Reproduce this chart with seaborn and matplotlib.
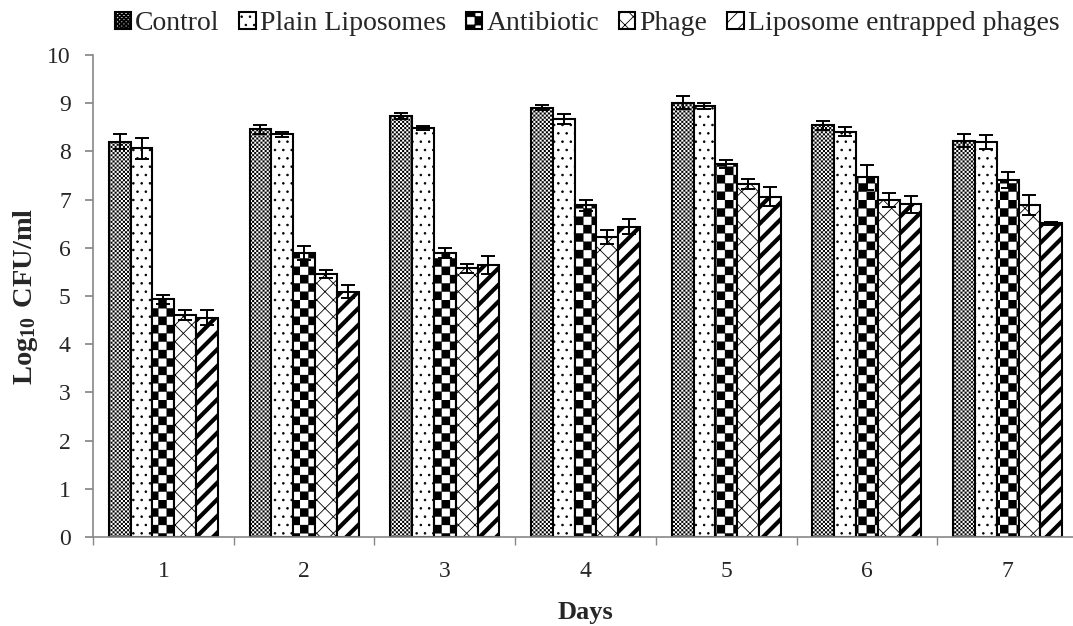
import numpy as np
import pandas as pd
import matplotlib
matplotlib.use('Agg')
import matplotlib.pyplot as plt
import matplotlib.hatch as mhatch
from matplotlib.path import Path
import seaborn as sns

days = ['1', '2', '3', '4', '5', '6', '7']
treatments = ['Control', 'Plain Liposomes', 'Antibiotic', 'Phage',
              'Liposome entrapped phages']
control = [8.20, 8.46, 8.74, 8.91, 9.01, 8.54, 8.22]
plain_lipo = [8.06, 8.35, 8.49, 8.67, 8.94, 8.41, 8.19]
antibiotic = [4.93, 5.89, 5.89, 6.88, 7.74, 7.46, 7.41]
phage = [4.61, 5.46, 5.57, 6.22, 7.32, 6.99, 6.89]
lipo_phage = [4.55, 5.09, 5.64, 6.44, 7.06, 6.90, 6.51]
control_err = [0.16, 0.09, 0.06, 0.06, 0.13, 0.10, 0.13]
plain_lipo_err = [0.21, 0.05, 0.04, 0.10, 0.07, 0.09, 0.15]
antibiotic_err = [0.10, 0.15, 0.10, 0.12, 0.08, 0.26, 0.16]
phage_err = [0.10, 0.08, 0.10, 0.14, 0.10, 0.15, 0.20]
lipo_phage_err = [0.15, 0.14, 0.18, 0.15, 0.20, 0.17, 0.03]

values = [control, plain_lipo, antibiotic, phage, lipo_phage]
errors = [control_err, plain_lipo_err, antibiotic_err, phage_err, lipo_phage_err]

df = pd.DataFrame({
    'Day': np.tile(days, len(treatments)),
    'Treatment': np.repeat(treatments, len(days)),
    'CFU': np.concatenate(values),
})


# checkerboard hatch (takes over the 'O' character)
class CheckerHatch(mhatch.HatchPatternBase):
    def __init__(self, hatch, density):
        self.n = hatch.count('O') * int(density)
        if self.n % 2:
            self.n += 1
        self.cells = [(i, j) for i in range(self.n) for j in range(self.n)
                      if (i + j) % 2 == 0]
        self.num_vertices = 5 * len(self.cells)

    def set_vertices_and_codes(self, vertices, codes):
        s = 1.0 / self.n
        k = 0
        for i, j in self.cells:
            x0, y0 = i * s, j * s
            vertices[k:k + 5] = [(x0, y0), (x0 + s, y0), (x0 + s, y0 + s),
                                 (x0, y0 + s), (x0, y0)]
            codes[k:k + 5] = [Path.MOVETO, Path.LINETO, Path.LINETO,
                              Path.LINETO, Path.CLOSEPOLY]
            k += 5


mhatch._hatch_types = [t for t in mhatch._hatch_types
                       if t is not mhatch.LargeCircles] + [CheckerHatch]

sns.set_theme(style='white')
plt.rcParams['font.family'] = ['Liberation Serif', 'DejaVu Serif']
plt.rcParams['mathtext.fontset'] = 'custom'
plt.rcParams['mathtext.rm'] = 'Liberation Serif'
plt.rcParams['mathtext.bf'] = 'Liberation Serif:bold'
plt.rcParams['hatch.linewidth'] = 0.6

fig = plt.figure(figsize=(10.73, 6.26), dpi=100)
ax = fig.add_axes([0.0867, 0.1422, 0.918, 0.770])

sns.barplot(data=df, x='Day', y='CFU', hue='Treatment', hue_order=treatments,
            palette=['white'] * 5, width=0.775, errorbar=None,
            edgecolor='black', linewidth=1.5, legend=False, ax=ax)

hatches = ['OOOOOOOO', '..', 'OO', 'xx', '//']
hatch_lw = [0.0, 0.6, 0.2, 0.6, 3.0]
for cont, h, hlw, err in zip(ax.containers, hatches, hatch_lw, errors):
    xs, ys = [], []
    for bar in cont:
        bar.set_hatch(h)
        if hasattr(bar, 'set_hatch_linewidth'):
            bar.set_hatch_linewidth(hlw)
        xs.append(bar.get_x() + bar.get_width() / 2)
        ys.append(bar.get_height())
    ax.errorbar(xs, ys, yerr=err, fmt='none', ecolor='black',
                elinewidth=1.4, capsize=5, capthick=1.4, zorder=5)

ax.set_ylim(0, 10)
ax.set_xlim(-0.5, 6.5)
ax.set_yticks(range(0, 11))
ax.tick_params(axis='y', labelsize=17, length=6, color='#888888',
               direction='out', left=True, pad=10)
ax.tick_params(axis='x', which='major', labelsize=17, length=0, pad=17)
ax.set_xticks(np.arange(-0.5, 7, 1.0), minor=True)
ax.tick_params(axis='x', which='minor', length=6, color='#888888',
               direction='out', bottom=True)
for side in ['top', 'right']:
    ax.spines[side].set_visible(False)
for side in ['left', 'bottom']:
    ax.spines[side].set_color('#888888')
    ax.spines[side].set_linewidth(1.2)

ax.set_xlabel('Days', fontsize=19, fontweight='bold', labelpad=14)
ax.set_ylabel(r'$\mathbf{Log_{10}\ CFU/ml}$', fontsize=20.5, labelpad=5)

handles = [cont[0] for cont in ax.containers]
fig.legend(handles, treatments, loc='upper center', bbox_to_anchor=(0.547, 1.022),
           ncol=5, frameon=False, fontsize=20, handlelength=0.6,
           handleheight=0.6, handletextpad=0.15, columnspacing=0.7)

fig.savefig('out.png', dpi=100)
